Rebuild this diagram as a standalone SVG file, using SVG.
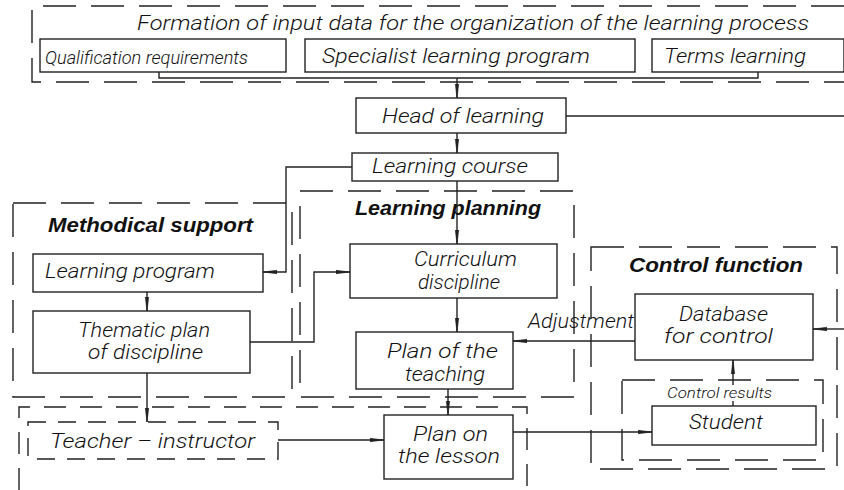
<svg xmlns="http://www.w3.org/2000/svg" width="844" height="490" viewBox="0 0 844 490">
<defs>
<marker id="arr" markerUnits="userSpaceOnUse" markerWidth="16" markerHeight="6" refX="14" refY="3" orient="auto">
<path d="M0,1.3 L14,3 L0,4.7 z" fill="#222" stroke="#222" stroke-width="0.6"/>
</marker>
<style>
.b{fill:#fff;stroke:#222;stroke-width:1.4}
.d{fill:none;stroke:#222;stroke-width:1.4;stroke-dasharray:33 15}
.ds{fill:none;stroke:#222;stroke-width:1.4;stroke-dasharray:22 14}
.c{fill:none;stroke:#222;stroke-width:1.4}
.a{marker-end:url(#arr)}
text{font-family:Roboto,"Liberation Sans","DejaVu Sans",sans-serif;font-style:italic;font-weight:300;fill:#111;font-size:21px}
.h{font-family:"Liberation Sans","DejaVu Sans",sans-serif;font-weight:bold}
</style>
</defs>
<rect width="844" height="490" fill="#fff"/>

<g id="frames">
<path class="d" d="M844,6 H32 V82 H844"/>
<rect class="d" x="13" y="203" width="279" height="194"/>
<rect class="d" x="300" y="191" width="274" height="206"/>
<rect class="d" x="591" y="247" width="246" height="222"/>
<rect class="d" x="622" y="380" width="201" height="80"/>
<path class="ds" d="M19,490 V407 H527 V490"/>
</g>

<g id="connectors">
<path class="c" d="M159,72 V78 H758 V72"/>
<path class="c a" d="M457,78 V98"/>
<path class="c a" d="M457,133 V153"/>
<path class="c a" d="M457,181 V244"/>
<path class="c a" d="M457,298 V332"/>
<path class="c a" d="M448,389 V415"/>
<path class="c a" d="M352,167 H286 V272 H263"/>
<path class="c a" d="M147,292 V311"/>
<path class="c a" d="M250,342 H314 V272 H350"/>
<path class="c a" d="M147,373 V422"/>
<path class="c a" d="M278,440 H384"/>
<path class="c a" d="M513,432 H652"/>
<path class="c a" d="M733,406 V360"/>
<path class="c a" d="M635,341 H513"/>
<path class="c" d="M566,116 H844"/>
<path class="c a" d="M844,329 H813"/>
</g>

<g id="title"><text x="137" y="30" textLength="672" lengthAdjust="spacingAndGlyphs">Formation of input data for the organization of the learning process</text></g>

<g id="qualification">
<rect class="b" x="40" y="39" width="246" height="33"/>
<text x="45" y="64" textLength="203" lengthAdjust="spacingAndGlyphs" style="font-size:18px">Qualification requirements</text>
</g>
<g id="specialist">
<rect class="b" x="305" y="39" width="330" height="33"/>
<text x="322" y="63" textLength="268" lengthAdjust="spacingAndGlyphs">Specialist learning program</text>
</g>
<g id="terms">
<rect class="b" x="652" y="39" width="192" height="33"/>
<text x="664" y="63" textLength="142" lengthAdjust="spacingAndGlyphs">Terms learning</text>
</g>
<g id="head">
<rect class="b" x="356" y="98" width="210" height="35"/>
<text x="382" y="123" textLength="162" lengthAdjust="spacingAndGlyphs">Head of learning</text>
</g>
<g id="course">
<rect class="b" x="352" y="153" width="206" height="28"/>
<text x="372" y="173" textLength="156" lengthAdjust="spacingAndGlyphs">Learning course</text>
</g>

<g id="methodical">
<text class="h" x="48" y="232" textLength="205" lengthAdjust="spacingAndGlyphs">Methodical support</text>
</g>
<g id="program">
<rect class="b" x="33" y="254" width="230" height="38"/>
<text x="45" y="278" textLength="170" lengthAdjust="spacingAndGlyphs">Learning program</text>
</g>
<g id="thematic">
<rect class="b" x="33" y="311" width="217" height="62"/>
<text x="78" y="337" textLength="132" lengthAdjust="spacingAndGlyphs">Thematic plan</text>
<text x="88" y="359" textLength="115" lengthAdjust="spacingAndGlyphs">of discipline</text>
</g>

<g id="planning">
<text class="h" x="355" y="215" textLength="186" lengthAdjust="spacingAndGlyphs">Learning planning</text>
</g>
<g id="curriculum">
<rect class="b" x="350" y="244" width="207" height="54"/>
<text x="414" y="266" textLength="103" lengthAdjust="spacingAndGlyphs">Curriculum</text>
<text x="418" y="289" textLength="82" lengthAdjust="spacingAndGlyphs">discipline</text>
</g>
<g id="teachingplan">
<rect class="b" x="356" y="332" width="157" height="57"/>
<text x="387" y="358" textLength="111" lengthAdjust="spacingAndGlyphs">Plan of the</text>
<text x="405" y="381" textLength="80" lengthAdjust="spacingAndGlyphs">teaching</text>
</g>
<g id="adjustment"><text x="528" y="328" textLength="106" lengthAdjust="spacingAndGlyphs">Adjustment</text></g>

<g id="control">
<text class="h" x="629" y="272" textLength="174" lengthAdjust="spacingAndGlyphs">Control function</text>
</g>
<g id="database">
<rect class="b" x="635" y="294" width="178" height="66"/>
<text x="679" y="321" textLength="89" lengthAdjust="spacingAndGlyphs">Database</text>
<text x="664" y="343" textLength="109" lengthAdjust="spacingAndGlyphs">for control</text>
</g>
<g id="results">
<rect x="665" y="385" width="110" height="16" fill="#fff"/>
<text x="667" y="398" textLength="105" lengthAdjust="spacingAndGlyphs" style="font-size:14px">Control results</text>
</g>
<g id="student">
<rect class="b" x="652" y="406" width="164" height="39"/>
<text x="689" y="429" textLength="74" lengthAdjust="spacingAndGlyphs">Student</text>
</g>

<g id="teacher">
<rect class="ds" x="28" y="422" width="250" height="37" style="stroke-dasharray:18 12"/>
<text x="50" y="448" textLength="205" lengthAdjust="spacingAndGlyphs">Teacher – instructor</text>
</g>
<g id="lesson">
<rect class="b" x="384" y="415" width="129" height="64"/>
<text x="413" y="441" textLength="75" lengthAdjust="spacingAndGlyphs">Plan on</text>
<text x="398" y="463" textLength="102" lengthAdjust="spacingAndGlyphs">the lesson</text>
</g>
</svg>
